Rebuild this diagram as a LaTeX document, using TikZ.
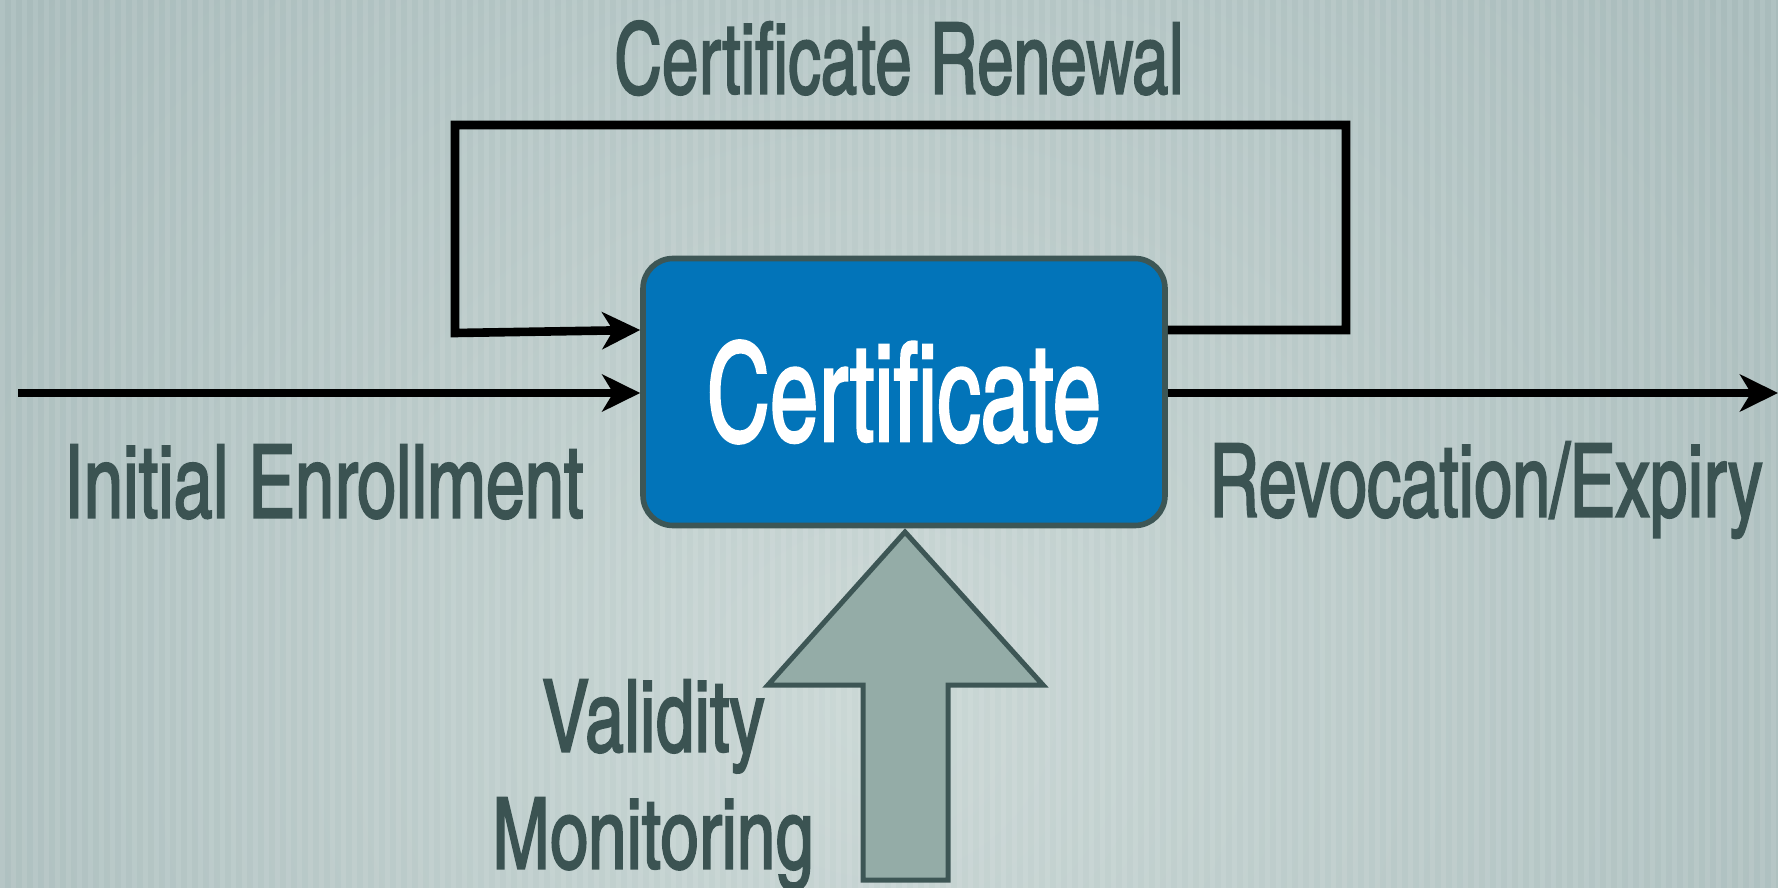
\documentclass[tikz,border=0pt]{standalone}
\usepackage{fontspec}
\usetikzlibrary{arrows.meta,calc}
\newfontfamily\cfont[FakeBold=1.9]{texgyreheroscn-regular.otf}
\definecolor{bgA}{HTML}{A9BCBC}
\definecolor{bgB}{HTML}{CBD8D6}
\definecolor{ink}{HTML}{3B5352}
\definecolor{certblue}{HTML}{0274B9}
\definecolor{edge}{HTML}{3D5655}
\definecolor{arrowfill}{HTML}{94ACA7}
\newcommand\fitt[3]{\resizebox{#1}{#2}{\cfont\smash{#3}\vphantom{H}}}
\tikzset{
  certbox/.style={draw=edge, line width=2.8pt, fill=certblue, rounded corners=15pt,
    minimum width=261pt, minimum height=133.5pt, inner sep=0pt, text=white},
  lbl/.style={inner sep=0pt, text=ink, anchor=south west},
  conn/.style={line width=4.3pt, draw=black, -{Stealth[length=19pt,width=18.5pt,inset=5.5pt]}},
  bigarrow/.style={draw=edge, line width=2.5pt, fill=arrowfill, line join=miter}
}
\begin{document}
\begin{tikzpicture}[x=0.5pt,y=-0.5pt]
\useasboundingbox (0,0) rectangle (1778,888);
\begin{scope}
  \clip (0,0) rectangle (1778,888);
  \fill[bgA] (0,0) rectangle (1778,888);
  \shade[inner color=bgB, outer color=bgA] (880,700) circle (1100);
  \foreach \i in {0,...,161} \fill[white,opacity=0.09] (\i*11,0) rectangle ++(5,888);
\end{scope}

% main box
\node[certbox] (cert) at (904,392) {\fitt{197pt}{49pt}{Certificate}};

% labels
\node[lbl] (renew) at (614,94) {\fitt{284.5pt}{35.5pt}{Certificate Renewal}};
\node[lbl] (enroll) at (64,518) {\fitt{259.5pt}{36.5pt}{Initial Enrollment}};
\node[lbl] (revoke) at (1209,517) {\fitt{276.5pt}{36.5pt}{Revocation/Expiry}};
\node[lbl] (valid) at (542,752) {\fitt{111pt}{36pt}{Validity}};
\node[lbl] (monit) at (492,869) {\fitt{160.5pt}{35.5pt}{Monitoring}};

% connectors
\coordinate (inL) at (18,393);
\coordinate (outR) at (1778,393);
\coordinate (rA) at (1346,330);
\coordinate (rB) at (1346,125);
\coordinate (rC) at (455,125);
\coordinate (rD) at (455,333);
\draw[conn] (inL) -- (inL -| cert.west);
\draw[conn] (cert.east |- rA) -- (rA) -- (rB) -- (rC) -- (rD) -- (cert.west |- rA);
\draw[conn] (cert.east |- outR) -- (outR);

% big upward arrow
\draw[bigarrow] (905,532) -- (1043,685) -- (948,685) -- (948,880) -- (863,880) -- (863,685) -- (768,685) -- cycle;
\end{tikzpicture}
\end{document}
